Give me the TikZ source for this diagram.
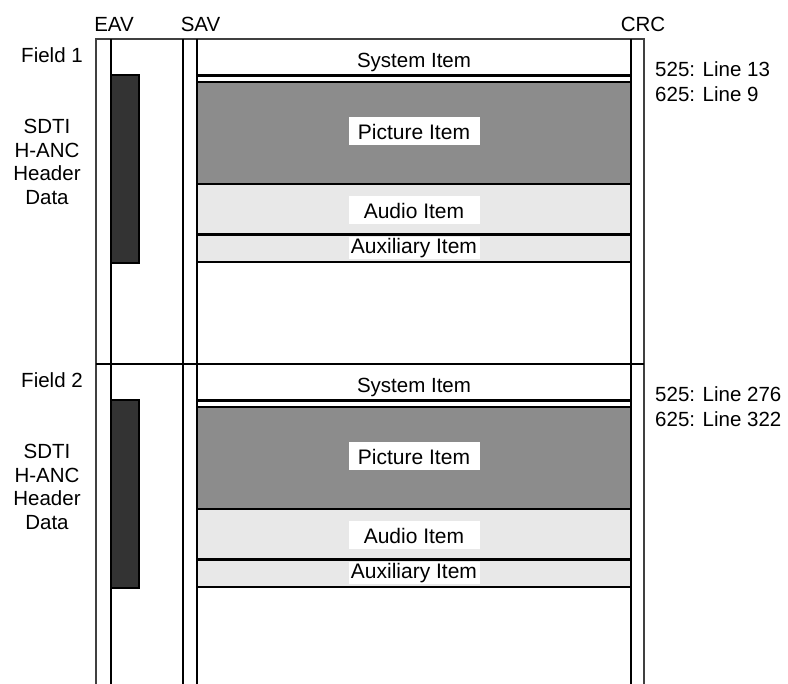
\documentclass[tikz,border=0pt]{standalone}
\usepackage{fontspec}
\setmainfont{Liberation Sans}
\definecolor{hancdark}{HTML}{333333}
\definecolor{picgray}{HTML}{8C8C8C}
\definecolor{itemlight}{HTML}{E8E8E8}
\tikzset{
    txt/.style={font=\fontsize{20.5}{23.5}\selectfont, inner sep=0pt, align=center},
    item/.style={draw, line width=1.2pt, minimum width=434pt, inner sep=0pt},
    tag/.style={fill=white, font=\fontsize{21}{24}\selectfont, inner sep=0pt,
                minimum width=131pt, minimum height=28pt},
    hanc/.style={draw, fill=hancdark, line width=1.2pt, minimum width=28pt,
                 minimum height=188pt, inner sep=0pt},
    rule/.style={line width=2pt},
    edge/.style={line width=1.2pt, black!75},
}
% #1 name, #2 offset, #3 field, #4 525 line, #5 625 line
\newcommand{\sdtifield}[5]{
    \begin{scope}[shift={(0,#2)}]
        \node[txt] (field#1) at (52,55) {Field #3};
        \node[txt] (hdrtxt#1) at (47,162) {SDTI\\H-ANC\\Header\\Data};
        \node[hanc] (hdr#1) at (125,169) {};
        \node[txt] (sys#1) at (414,62.5) {System Item};
        \draw[line width=3pt] (197,75.5) -- (631,75.5);
        \node[item, fill=picgray, minimum height=102pt,
              label={[tag, yshift=1.5pt]center:Picture Item}] (pic#1) at (414,133) {};
        \node[item, fill=itemlight, minimum height=50pt,
              label={[tag, yshift=-1.5pt]center:Audio Item}] (aud#1) at (414,209) {};
        \node[item, fill=itemlight, minimum height=27pt,
              label={[tag, minimum height=22pt]center:Auxiliary Item}] (aux#1) at (414,248.5) {};
        \node[txt, anchor=west] (lna#1) at (655,69) {525: Line #4};
        \node[txt, anchor=west] (lnb#1) at (655,94) {625: Line #5};
    \end{scope}
}

\begin{document}
\begin{tikzpicture}[x=1pt, y=-1pt]
    \useasboundingbox (0,0) rectangle (788,684);

    \node[txt] (eav) at (114,24) {EAV};
    \node[txt] (sav) at (200.5,24) {SAV};
    \node[txt] (crc) at (643,24) {CRC};

    \sdtifield{a}{0}{1}{13}{9}
    \sdtifield{b}{325}{2}{276}{322}

    % frame and word boundaries
    \draw[edge] (96,684) -- (96,39) -- (644,39) -- (644,684);
    \draw[rule] (96,364) -- (644,364);
    \foreach \x in {111,183,197,631}
        \draw[rule] (\x,39) -- (\x,684);

\end{tikzpicture}
\end{document}
